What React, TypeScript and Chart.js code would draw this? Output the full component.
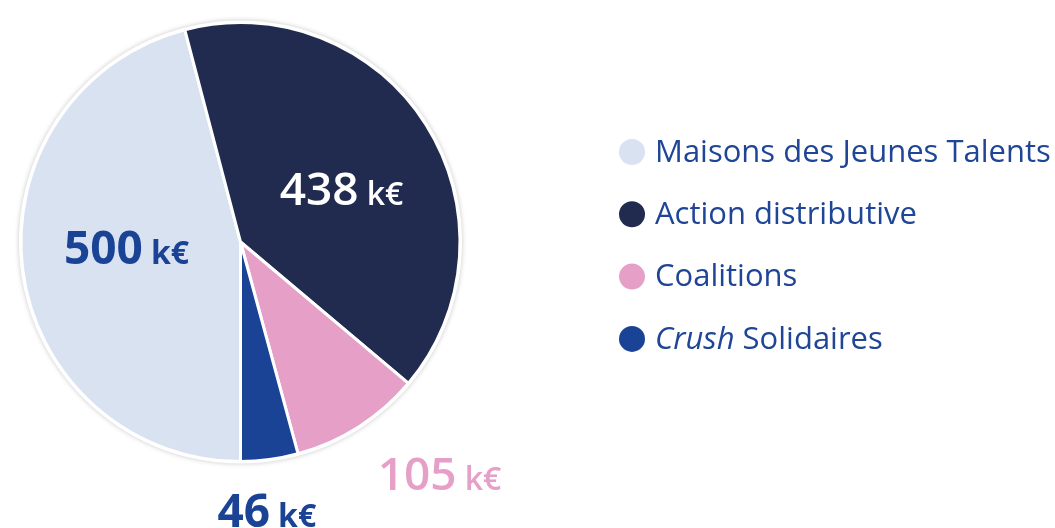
import React, { useEffect, useRef } from "react";
import { Chart, registerables } from "chart.js";

Chart.register(...registerables);

const categories = ["Maisons des Jeunes Talents", "Action distributive", "Coalitions", "Crush Solidaires"];
const italicPrefix = ["", "", "", "Crush"];
const values = [500, 438, 105, 46];
const unit = "k€";
const sliceColors = ["#d9e2f1", "#212b50", "#e6a0c8", "#1a4396"];
const valueLabelColors = ["#1a4396", "#ffffff", "#e6a0c8", "#1a4396"];
const valueLabelWeights = ["700", "600", "600", "700"];

const FONT = "'Open Sans', 'DejaVu Sans', sans-serif";
const TEXT_BLUE = "#1f4596";

const pieExtras = {
  id: "pieExtras",
  beforeDatasetsDraw(chart: any) {
    const meta = chart.getDatasetMeta(0);
    const arc = meta.data[0];
    if (!arc) return;
    const { x, y, outerRadius } = arc.getProps(["x", "y", "outerRadius"], true);
    const ctx = chart.ctx;
    ctx.save();
    ctx.shadowColor = "rgba(0,0,0,0.22)";
    ctx.shadowBlur = 5;
    ctx.fillStyle = "#ffffff";
    ctx.beginPath();
    ctx.arc(x, y, outerRadius + 2, 0, Math.PI * 2);
    ctx.fill();
    ctx.restore();
  },
  afterDatasetsDraw(chart: any) {
    const ctx = chart.ctx;
    const meta = chart.getDatasetMeta(0);
    meta.data.forEach((el: any, i: number) => {
      const { x, y, startAngle, endAngle, outerRadius } = el.getProps(
        ["x", "y", "startAngle", "endAngle", "outerRadius"],
        true
      );
      const frac = endAngle - startAngle;
      const inside = frac > 1.0;
      const mid = (startAngle + endAngle) / 2 + (inside ? 0.08 : 0.035);
      const r = inside ? outerRadius * 0.52 : outerRadius * 1.23;
      const px = x + Math.cos(mid) * r;
      const py = y + Math.sin(mid) * r;
      const w = valueLabelWeights[i];
      const numFont = `${w} 46px ${FONT}`;
      const unitFont = `${w} 32px ${FONT}`;
      const num = String(values[i]);
      ctx.save();
      ctx.font = numFont;
      const nw = ctx.measureText(num).width;
      ctx.font = unitFont;
      const uw = ctx.measureText(unit).width;
      const gap = 8;
      const total = nw + gap + uw;
      let left = px - total / 2;
      if (!inside && Math.cos(mid) > 0.3) left = px;
      ctx.fillStyle = valueLabelColors[i];
      ctx.textBaseline = "alphabetic";
      ctx.textAlign = "left";
      const base = py + 16;
      ctx.font = numFont;
      ctx.fillText(num, left, base);
      ctx.font = unitFont;
      ctx.fillText(unit, left + nw + gap, base);
      ctx.restore();
    });

    // legend
    const lx = 632;
    const tx = 655;
    const y0 = 152;
    const step = 62.3;
    categories.forEach((label, i) => {
      const cy = y0 + i * step;
      ctx.save();
      ctx.fillStyle = sliceColors[i];
      ctx.beginPath();
      ctx.arc(lx, cy, 13, 0, Math.PI * 2);
      ctx.fill();
      ctx.textBaseline = "middle";
      ctx.textAlign = "left";
      ctx.fillStyle = TEXT_BLUE;
      let cx = tx;
      const pre = italicPrefix[i];
      let rest = label;
      if (pre && label.startsWith(pre)) {
        ctx.font = `italic 400 31px ${FONT}`;
        ctx.fillText(pre, cx, cy + 1);
        cx += ctx.measureText(pre).width;
        rest = label.slice(pre.length);
      }
      ctx.font = `400 31px ${FONT}`;
      ctx.fillText(rest, cx, cy + 1);
      ctx.restore();
    });
  },
};

export default function App() {
  const ref = useRef<HTMLCanvasElement | null>(null);
  useEffect(() => {
    if (!ref.current) return;
    const chart = new Chart(ref.current, {
      type: "pie",
      data: {
        labels: categories,
        datasets: [
          {
            data: values,
            backgroundColor: sliceColors,
            borderColor: "#ffffff",
            borderWidth: 3,
          },
        ],
      },
      options: {
        responsive: true,
        maintainAspectRatio: false,
        animation: false,
        rotation: 180,
        layout: { padding: { left: 18, top: 21, right: 592, bottom: 65 } },
        plugins: {
          legend: { display: false },
          tooltip: { enabled: false },
        },
      },
      plugins: [pieExtras],
    });
    return () => chart.destroy();
  }, []);
  return (
    <div style={{ position: "absolute", left: 0, top: 0, width: 1055, height: 528, background: "#ffffff" }}>
      <canvas ref={ref} />
    </div>
  );
}
